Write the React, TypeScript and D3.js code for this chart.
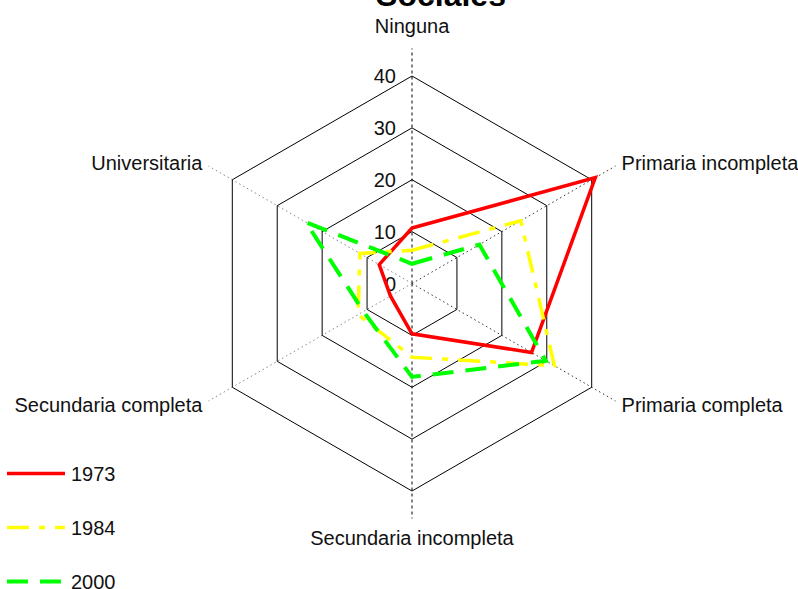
import * as d3 from 'd3'
import { useEffect, useRef } from 'react'

const categories = ['Ninguna', 'Primaria incompleta', 'Primaria completa', 'Secundaria incompleta', 'Secundaria completa', 'Universitaria']
const years = ['1973', '1984', '2000']
const v1973 = [10.7, 40.8, 26.6, 9.7, 4.8, 7.3]
const v1984 = [6.4, 24.2, 31.7, 14.2, 12, 11.6]
const v2000 = [3.8, 15, 29.8, 18, 10.8, 23.6]
const levels = [0, 10, 20, 30, 40]

const W = 798
const H = 589
const FONT = '"Liberation Sans", Arial, sans-serif'

export default function App() {
    const svgRef = useRef<SVGSVGElement>(null)

    useEffect(() => {
        const svg = d3.select(svgRef.current)
        svg.selectAll('*').remove()

        const cx = 412, cy = 283.5
        const r = d3.scaleLinear().domain([0, 40]).range([0, 207.5])
        const angle = (i: number) => (i * 2 * Math.PI) / categories.length

        const g = svg.append('g').attr('transform', `translate(${cx},${cy})`)

        // spokes
        categories.forEach((c, i) => {
            const a = angle(i)
            const R = 235
            g.append('line')
                .attr('x1', 0).attr('y1', 0)
                .attr('x2', R * Math.sin(a)).attr('y2', -R * Math.cos(a))
                .attr('stroke', i === 0 || i === 3 ? '#000' : (i > 3 ? '#888' : '#333'))
                .attr('stroke-width', 1)
                .attr('stroke-dasharray', i === 0 || i === 3 ? '3,3' : '1.5,3')
        })

        // hexagon rings
        const ring = d3.lineRadial<number>()
            .angle((_, i) => angle(i))
            .radius(d => r(d))
            .curve(d3.curveLinearClosed)
        levels.filter(l => l > 0).forEach(l => {
            g.append('path')
                .attr('d', ring(categories.map(() => l)))
                .attr('fill', 'none')
                .attr('stroke', '#000')
                .attr('stroke-width', 1)
        })

        // level labels
        g.selectAll('text.lvl')
            .data(levels)
            .join('text')
            .attr('class', 'lvl')
            .attr('x', -16)
            .attr('y', d => -r(d))
            .attr('dy', '0.35em')
            .attr('text-anchor', 'end')
            .style('font', `20px ${FONT}`)
            .attr('fill', '#111')
            .text(d => d)

        // category labels
        categories.forEach((c, i) => {
            const a = angle(i)
            const R = 242
            const x = R * Math.sin(a)
            let y = -R * Math.cos(a)
            let anchor = 'middle'
            if (i === 0) y -= 16
            if (i === 3) y += 12
            if (i === 1 || i === 2) anchor = 'start'
            if (i === 4 || i === 5) anchor = 'end'
            g.append('text')
                .attr('x', x)
                .attr('y', y)
                .attr('dy', '0.35em')
                .attr('text-anchor', anchor)
                .style('font', `20px ${FONT}`)
                .attr('fill', '#111')
                .text(c)
        })

        const series = [
            { name: years[0], values: v1973, color: '#ff0000', dash: null, w: 3.5 },
            { name: years[1], values: v1984, color: '#ffff00', dash: '22,10,6,10', w: 3.5 },
            { name: years[2], values: v2000, color: '#00ff00', dash: '21,12', w: 4 },
        ]

        const line = d3.lineRadial<number>()
            .angle((_, i) => angle(i))
            .radius(d => r(d))
            .curve(d3.curveLinearClosed)

        series.forEach(s => {
            g.append('path')
                .attr('d', line(s.values))
                .attr('fill', 'none')
                .attr('stroke', s.color)
                .attr('stroke-width', s.w)
                .attr('stroke-dasharray', s.dash)
                .attr('stroke-linejoin', 'miter')
        })

        // legend
        const leg = svg.append('g')
        series.forEach((s, i) => {
            const y = 473.5 + i * 54
            leg.append('line')
                .attr('x1', 7).attr('x2', 65)
                .attr('y1', y).attr('y2', y)
                .attr('stroke', s.color)
                .attr('stroke-width', s.w)
                .attr('stroke-dasharray', s.dash)
            leg.append('text')
                .attr('x', 71)
                .attr('y', y)
                .attr('dy', '0.35em')
                .style('font', `20px ${FONT}`)
                .attr('fill', '#111')
                .text(s.name)
        })

        // title (cut off at the top)
        svg.append('text')
            .attr('x', 441)
            .attr('y', 6)
            .attr('text-anchor', 'middle')
            .style('font', `bold 32px ${FONT}`)
            .attr('fill', '#000')
            .text('Sociales')
    }, [])

    return (
        <div style={{ position: 'fixed', left: 0, top: 0, background: '#fff' }}>
            <svg ref={svgRef} width={W} height={H} style={{ display: 'block' }} />
        </div>
    )
}
